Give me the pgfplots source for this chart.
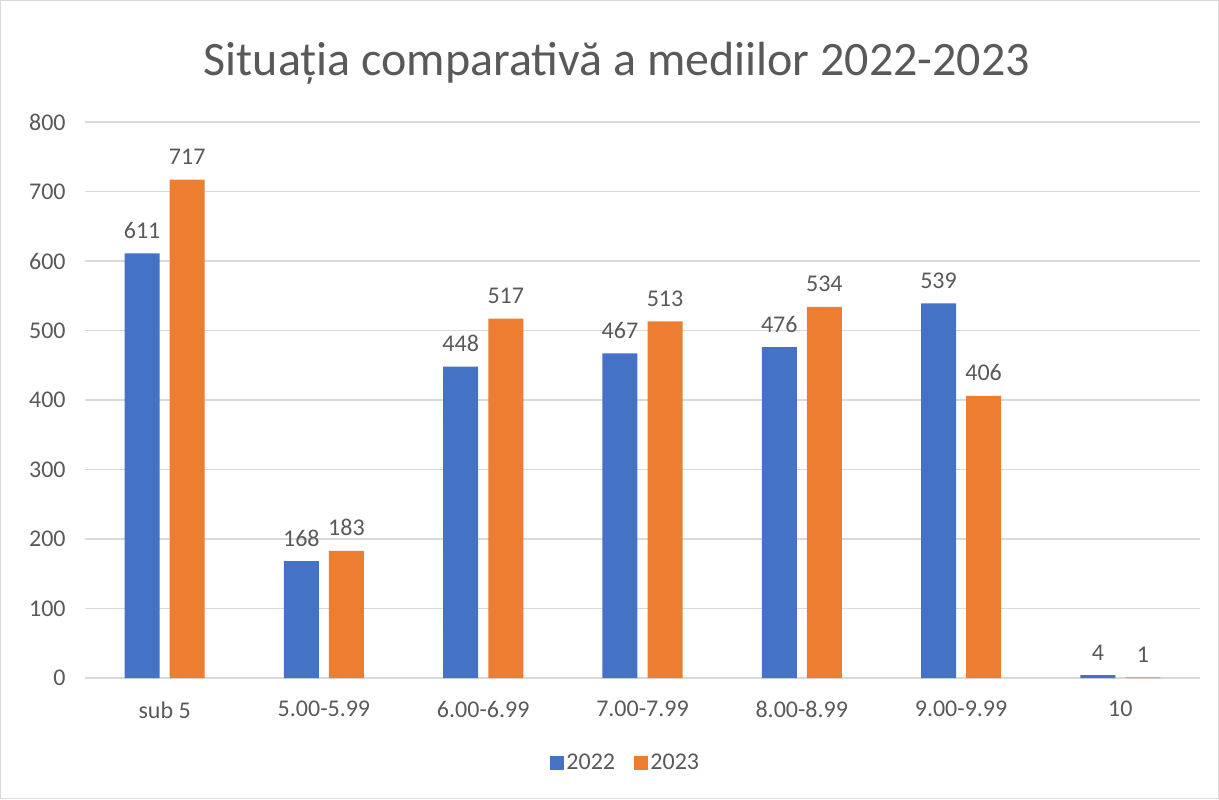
\documentclass[border=0pt]{standalone}
\usepackage{fontspec}
\setmainfont{Carlito}
\usepackage{pgfplots}
\pgfplotsset{compat=1.18}
\definecolor{cblue}{HTML}{4472C4}
\definecolor{corange}{HTML}{ED7D31}
\definecolor{gridc}{HTML}{D9D9D9}
\definecolor{txt}{HTML}{595959}
\begin{document}
\begin{tikzpicture}[x=1pt,y=1pt]
\path[use as bounding box] (-63.75,-90.75) rectangle (850.5,508.5);
\draw[gridc, line width=0.8pt] (-63.35,-90.35) rectangle (850.1,508.1);
\begin{axis}[
  at={(0,0)}, anchor=south west,
  scale only axis, width=836.25pt, height=417pt,
  xmin=-0.5, xmax=6.5, ymin=0, ymax=800,
  ytick={0,100,...,800},
  xtick={0,...,6},
  xticklabels={sub 5,5.00-5.99,6.00-6.99,7.00-7.99,8.00-8.99,9.00-9.99,10},
  axis line style={draw=none},
  major tick length=0pt,
  ymajorgrids, grid style={gridc, line width=0.9pt},
  /pgf/number format/assume math mode=true,
  ticklabel style={text=txt, font=\fontsize{18}{20}\selectfont},
  xticklabel style={yshift=-14pt},
  yticklabel style={xshift=-11pt},
  ybar, bar width=26.25pt,
  nodes near coords,
  every node near coord/.append style={text=txt, font=\fontsize{18}{20}\selectfont, yshift=7.5pt},
  legend style={at={(0.485,-0.153)}, anchor=center, draw=none, legend columns=2,
    font=\fontsize{18}{20}\selectfont, text=txt,
    /tikz/every even column/.append style={column sep=12pt}},
  legend image code/.code={\fill (0pt,-5.25pt) rectangle (10.5pt,5.25pt);},
  clip=false,
]
\addplot[fill=cblue, draw=none, bar shift=-16.9pt] coordinates {(0,611) (1,168) (2,448) (3,467) (4,476) (5,539) (6,4)};
\addplot[fill=corange, draw=none, bar shift=16.9pt] coordinates {(0,717) (1,183) (2,517) (3,513) (4,534) (5,406) (6,1)};
\legend{2022,2023}
\node[text=txt, font=\fontsize{36}{40}\selectfont] at (axis description cs:0.477,1.106) {Situația comparativă a mediilor 2022-2023};
\end{axis}
\end{tikzpicture}
\end{document}
